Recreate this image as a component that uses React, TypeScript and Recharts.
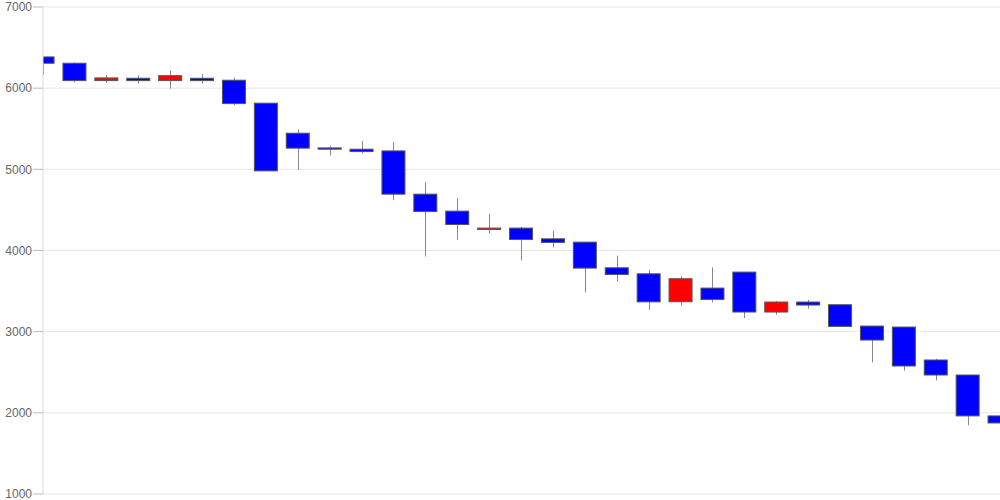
import React from 'react';
import { ComposedChart, Bar, XAxis, YAxis, CartesianGrid } from 'recharts';

// Candle values (oldest first)
const opens = [
  6385, 6307, 6093, 6122, 6093, 6122, 6098, 5815, 5445, 5264, 5248, 5227, 4694, 4485, 4259, 4276,
  4144, 4103, 3787, 3713, 3369, 3537, 3734, 3242, 3365, 3332, 3069, 3057, 2651, 2466, 1962,
];
const highs = [
  6385, 6315, 6163, 6159, 6216, 6175, 6130, 5815, 5494, 5292, 5350, 5338, 4842, 4645, 4452, 4292,
  4243, 4103, 3935, 3763, 3681, 3792, 3734, 3377, 3393, 3332, 3069, 3057, 2667, 2466, 2211,
];
const lows = [
  6163, 6073, 6068, 6056, 5994, 6056, 5790, 4981, 4993, 5169, 5194, 4620, 3926, 4132, 4209, 3877,
  4037, 3483, 3618, 3268, 3319, 3360, 3168, 3209, 3286, 3065, 2621, 2519, 2400, 1846, 1747,
];
const closes = [
  6307, 6093, 6126, 6093, 6154, 6093, 5810, 4981, 5261, 5248, 5219, 4694, 4480, 4320, 4276, 4136,
  4099, 3783, 3705, 3367, 3652, 3397, 3242, 3365, 3328, 3065, 2897, 2577, 2466, 1962, 1875,
];
const yTicks = [1000, 2000, 3000, 4000, 5000, 6000, 7000];

interface Candle {
  i: number;
  open: number;
  high: number;
  low: number;
  close: number;
}

const data: Candle[] = opens.map((open, i) => ({
  i,
  open,
  high: highs[i],
  low: lows[i],
  close: closes[i],
}));

const CandleShape = (props: any) => {
  const { x, y, width, height, payload } = props;
  const { open, high, low, close } = payload as Candle;
  const top = Math.min(y, y + height);
  const bottom = Math.max(y, y + height);
  const range = high - low || 1;
  const toPx = (v: number) => top + ((high - v) / range) * (bottom - top);
  const cx = Math.round(x + width / 2) + 0.5;
  const bodyTop = toPx(Math.max(open, close));
  const bodyBottom = toPx(Math.min(open, close));
  const up = close > open;
  return (
    <g>
      <line x1={cx} x2={cx} y1={top} y2={bottom} stroke="#888" strokeWidth={1} />
      <rect
        x={x}
        y={bodyTop}
        width={width}
        height={Math.max(bodyBottom - bodyTop, 1)}
        fill={up ? '#ff0000' : '#0000ff'}
        stroke="#555"
        strokeWidth={1}
      />
    </g>
  );
};

export default function App() {
  return (
    <div style={{ position: 'absolute', left: 0, top: 0, background: '#fff' }}>
      <ComposedChart
        width={1000}
        height={500}
        data={data}
        margin={{ top: 7, right: 0, bottom: 6, left: 0 }}
      >
        <CartesianGrid vertical={false} stroke="#e6e6e6" />
        <XAxis
          dataKey="i"
          type="number"
          domain={[0, 30]}
          allowDataOverflow
          hide
        />
        <YAxis
          width={43}
          domain={[1000, 7000]}
          ticks={yTicks}
          interval={0}
          allowDataOverflow
          tickSize={10}
          tickMargin={1}
          tick={{ fill: '#666', fontSize: 12, fontFamily: 'Liberation Sans, Arial, sans-serif' }}
          tickLine={{ stroke: '#bbb' }}
          axisLine={{ stroke: '#ddd' }}
        />
        <Bar
          dataKey={(d: Candle) => [d.low, d.high]}
          barSize={23}
          shape={CandleShape}
          isAnimationActive={false}
        />
      </ComposedChart>
    </div>
  );
}
